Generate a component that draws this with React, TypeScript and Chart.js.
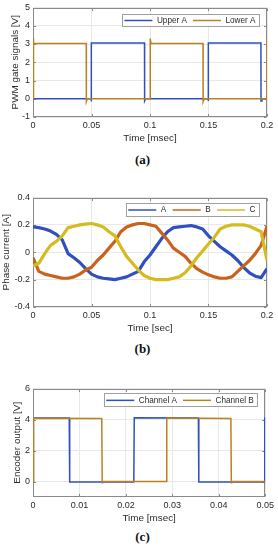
import React, { useEffect, useRef } from "react";
import { Chart, registerables } from "chart.js";

Chart.register(...registerables);

// ---------- (a) PWM gate signals ----------
const pwmXTicks = [0, 0.05, 0.1, 0.15, 0.2];
const pwmYTicks = [-1, 0, 1, 2, 3, 4, 5];
const upperATime = [0, 0.0497, 0.0498, 0.0499, 0.0953, 0.0954, 0.0962, 0.1497, 0.1498, 0.1499, 0.1948, 0.1949, 0.1957, 0.2];
const upperAValue = [0, 0, -0.15, 3.06, 3.06, -0.12, 0, 0, -0.12, 3.06, 3.06, -0.12, 0, 0];
const lowerATime = [0, 0.0001, 0.0008, 0.0455, 0.0456, 0.0464, 0.1001, 0.1002, 0.1009, 0.1453, 0.1454, 0.1462, 0.1998, 0.1999, 0.2];
const lowerAValue = [0, 3.3, 3.03, 3.03, -0.15, 0, 0, 3.3, 3.03, 3.03, -0.15, 0, 0, -0.1, 3.3];

// ---------- (b) Phase currents ----------
const currentXTicks = [0, 0.05, 0.1, 0.15, 0.2];
const currentYTicks = [-0.4, -0.2, 0, 0.2, 0.4];
const currentTime = [0, 0.005, 0.01, 0.015, 0.02, 0.025, 0.03, 0.035, 0.04, 0.045, 0.05, 0.055, 0.06, 0.065, 0.07, 0.075, 0.08, 0.085, 0.09, 0.095, 0.1, 0.105, 0.11, 0.115, 0.12, 0.125, 0.13, 0.135, 0.14, 0.145, 0.15, 0.155, 0.16, 0.165, 0.17, 0.175, 0.18, 0.185, 0.19, 0.195, 0.2];
const phaseA = [0.185, 0.18, 0.17, 0.155, 0.13, 0.09, -0.01, -0.04, -0.075, -0.12, -0.16, -0.18, -0.19, -0.195, -0.2, -0.19, -0.18, -0.16, -0.14, -0.07, -0.02, 0.04, 0.1, 0.15, 0.18, 0.185, 0.19, 0.195, 0.185, 0.17, 0.12, 0.08, 0.04, 0.01, -0.02, -0.06, -0.11, -0.15, -0.175, -0.185, -0.12];
const phaseB = [-0.04, -0.14, -0.16, -0.17, -0.18, -0.19, -0.19, -0.18, -0.16, -0.13, -0.11, -0.06, -0.02, 0.03, 0.08, 0.15, 0.185, 0.2, 0.21, 0.21, 0.2, 0.19, 0.14, 0.09, 0.03, 0, -0.03, -0.08, -0.12, -0.145, -0.165, -0.18, -0.19, -0.19, -0.18, -0.14, -0.1, -0.06, -0.01, 0.05, 0.19];
const phaseC = [-0.1, -0.08, -0.01, 0.05, 0.08, 0.12, 0.18, 0.19, 0.2, 0.205, 0.21, 0.2, 0.185, 0.15, 0.12, 0.04, -0.03, -0.08, -0.13, -0.17, -0.19, -0.2, -0.2, -0.2, -0.19, -0.18, -0.15, -0.1, -0.04, 0.01, 0.06, 0.11, 0.17, 0.19, 0.2, 0.2, 0.2, 0.19, 0.17, 0.15, -0.06];

// ---------- (c) Encoder output ----------
const encXTicks = [0, 0.01, 0.02, 0.03, 0.04, 0.05];
const encYTicks = [0, 2, 4, 6];
const chATime = [0, 0.0001, 0.0078, 0.0079, 0.0217, 0.0218, 0.0356, 0.0357, 0.0498, 0.0499, 0.05];
const chAValue = [0, 4.1, 4.1, -0.03, -0.03, 4.12, 4.1, -0.03, -0.03, 4.1, 4.1];
const chBTime = [0, 0.0001, 0.0148, 0.0149, 0.015, 0.0287, 0.0288, 0.0426, 0.0427, 0.0428, 0.05];
const chBValue = [0, 4.08, 4.06, -0.08, 0, 0, 4.1, 4.07, -0.08, 0, 0];

const BLUE = "#3050c0";
const GOLD = "#bb8020";
const ORANGE = "#c8621c";
const YELLOW = "#d6bb1f";

const FONT = "Liberation Sans, Arial, Helvetica, sans-serif";
const AXIS = "#8a8a8a";
const GRID = "#e8e8e8";
const TEXT = "#2a2a2a";

const framePlugin = {
  id: "mlFrame",
  beforeDatasetsDraw(chart: any) {
    const { ctx, chartArea: a, scales } = chart;
    ctx.save();
    ctx.strokeStyle = AXIS;
    ctx.lineWidth = 1;
    const L = Math.round(a.left) + 0.5;
    const R = Math.round(a.right) - 0.5;
    const T = Math.round(a.top) + 0.5;
    const B = Math.round(a.bottom) - 0.5;
    ctx.strokeRect(L, T, R - L, B - T);
    const tl = 2.5;
    ctx.beginPath();
    for (const t of scales.x.ticks) {
      const px = Math.round(scales.x.getPixelForValue(t.value)) + 0.5;
      ctx.moveTo(px, B);
      ctx.lineTo(px, B - tl);
      ctx.moveTo(px, T);
      ctx.lineTo(px, T + tl);
    }
    for (const t of scales.y.ticks) {
      const py = Math.round(scales.y.getPixelForValue(t.value)) + 0.5;
      ctx.moveTo(L, py);
      ctx.lineTo(L + tl, py);
      ctx.moveTo(R, py);
      ctx.lineTo(R - tl, py);
    }
    ctx.stroke();
    ctx.restore();
  },
  afterDatasetsDraw(chart: any) {
    const opts = chart.options.plugins.mlLegend;
    if (!opts) return;
    const { ctx, chartArea: a } = chart;
    const items = opts.items as { label: string; color: string }[];
    ctx.save();
    ctx.font = `8.2px ${FONT}`;
    const maxW = Math.max(...items.map((i) => ctx.measureText(i.label).width));
    const colW = 38.5 + maxW;
    const boxW = colW * items.length;
    const right = a.right - 8;
    const left = right - boxW;
    const top = a.top + opts.top;
    const h = opts.h;
    ctx.fillStyle = "#ffffff";
    ctx.fillRect(left, top, boxW, h);
    ctx.strokeStyle = "#a0a0a0";
    ctx.lineWidth = 1;
    ctx.strokeRect(Math.round(left) + 0.5, Math.round(top) + 0.5, Math.round(boxW), Math.round(h));
    const cy = top + h / 2 + 0.5;
    items.forEach((it, i) => {
      const cx = left + i * colW;
      ctx.strokeStyle = it.color;
      ctx.lineWidth = 1.5;
      ctx.beginPath();
      ctx.moveTo(cx + 2.5, cy);
      ctx.lineTo(cx + 30.5, cy);
      ctx.stroke();
      ctx.fillStyle = TEXT;
      ctx.textBaseline = "middle";
      ctx.textAlign = "left";
      ctx.fillText(it.label, cx + 35, cy);
    });
    ctx.restore();
  },
};

type Spec = {
  datasets: any[];
  xMin: number;
  xMax: number;
  xTicks: number[];
  yMin: number;
  yMax: number;
  yTicks: number[];
  xTitle: string;
  yTitle: string;
  yTitlePad: number;
  legendItems: { label: string; color: string }[];
  legendTop: number;
  legendH: number;
};

function makeConfig(s: Spec): any {
  const tickFont = { family: FONT, size: 9, lineHeight: 1 };
  const titleFont = { family: FONT, size: 9.9, lineHeight: 1.2 };
  return {
    type: "line",
    data: { datasets: s.datasets },
    plugins: [framePlugin],
    options: {
      responsive: false,
      animation: false,
      devicePixelRatio: 1,
      events: [],
      layout: { padding: { top: 5, right: 11, bottom: 0, left: 0 } },
      elements: { point: { radius: 0 }, line: { tension: 0 } },
      plugins: {
        legend: { display: false },
        tooltip: { enabled: false },
        mlLegend: { items: s.legendItems, top: s.legendTop, h: s.legendH },
      },
      scales: {
        x: {
          type: "linear",
          min: s.xMin,
          max: s.xMax,
          afterBuildTicks: (sc: any) => {
            sc.ticks = s.xTicks.map((v) => ({ value: v }));
          },
          afterFit: (sc: any) => {
            sc.height = 27;
          },
          grid: { color: GRID, drawTicks: false, lineWidth: 1 },
          border: { display: false },
          ticks: {
            font: tickFont,
            color: TEXT,
            padding: 4,
            maxRotation: 0,
            autoSkip: false,
            callback: (v: any) => String(v),
          },
          title: { display: true, text: s.xTitle, font: titleFont, color: TEXT, padding: 0 },
        },
        y: {
          type: "linear",
          min: s.yMin,
          max: s.yMax,
          afterBuildTicks: (sc: any) => {
            sc.ticks = s.yTicks.map((v) => ({ value: v }));
          },
          afterFit: (sc: any) => {
            sc.width = 33;
          },
          grid: { color: GRID, drawTicks: false, lineWidth: 1 },
          border: { display: false },
          ticks: {
            font: tickFont,
            color: TEXT,
            padding: 3,
            autoSkip: false,
            callback: (v: any) => String(v),
          },
          title: {
            display: true,
            text: s.yTitle,
            font: titleFont,
            color: TEXT,
            padding: { top: s.yTitlePad, bottom: 0 },
          },
        },
      },
    },
  };
}

const pts = (xs: number[], ys: number[]) => xs.map((x, i) => ({ x, y: ys[i] }));

function Panel({ top, height, spec }: { top: number; height: number; spec: () => Spec }) {
  const ref = useRef<HTMLCanvasElement | null>(null);
  useEffect(() => {
    if (!ref.current) return;
    const chart = new Chart(ref.current, makeConfig(spec()));
    return () => chart.destroy();
  }, []);
  return (
    <canvas
      ref={ref}
      width={278}
      height={height}
      style={{ position: "absolute", left: 0, top, width: 278, height, display: "block" }}
    />
  );
}

const specA = (): Spec => ({
  datasets: [
    { label: "Upper A", data: pts(upperATime, upperAValue), borderColor: BLUE, borderWidth: 1.5, order: 1 },
    { label: "Lower A", data: pts(lowerATime, lowerAValue), borderColor: GOLD, borderWidth: 1.5, order: 0 },
  ],
  xMin: 0,
  xMax: 0.2,
  xTicks: pwmXTicks,
  yMin: -1,
  yMax: 5,
  yTicks: pwmYTicks,
  xTitle: "Time [msec]",
  yTitle: "PWM gate signals [V]",
  yTitlePad: 9.5,
  legendItems: [
    { label: "Upper A", color: BLUE },
    { label: "Lower A", color: GOLD },
  ],
  legendTop: 6.7,
  legendH: 11.6,
});

const specB = (): Spec => ({
  datasets: [
    { label: "A", data: pts(currentTime, phaseA), borderColor: BLUE, borderWidth: 3.2, borderJoinStyle: "round", order: 2 },
    { label: "B", data: pts(currentTime, phaseB), borderColor: ORANGE, borderWidth: 3.2, borderJoinStyle: "round", order: 1 },
    { label: "C", data: pts(currentTime, phaseC), borderColor: YELLOW, borderWidth: 3.2, borderJoinStyle: "round", order: 0 },
  ],
  xMin: 0,
  xMax: 0.2,
  xTicks: currentXTicks,
  yMin: -0.4,
  yMax: 0.4,
  yTicks: currentYTicks,
  xTitle: "Time [sec]",
  yTitle: "Phase current [A]",
  yTitlePad: 0.3,
  legendItems: [
    { label: "A", color: BLUE },
    { label: "B", color: ORANGE },
    { label: "C", color: YELLOW },
  ],
  legendTop: 5.7,
  legendH: 12.6,
});

const specC = (): Spec => ({
  datasets: [
    { label: "Channel A", data: pts(chATime, chAValue), borderColor: BLUE, borderWidth: 1.5, order: 1 },
    { label: "Channel B", data: pts(chBTime, chBValue), borderColor: GOLD, borderWidth: 1.5, order: 0 },
  ],
  xMin: 0,
  xMax: 0.05,
  xTicks: encXTicks,
  yMin: -1,
  yMax: 6,
  yTicks: encYTicks,
  xTitle: "Time [msec]",
  yTitle: "Encoder output [V]",
  yTitlePad: 11,
  legendItems: [
    { label: "Channel A", color: BLUE },
    { label: "Channel B", color: GOLD },
  ],
  legendTop: 4.7,
  legendH: 13.3,
});

function Caption({ top, text }: { top: number; text: string }) {
  return (
    <div
      style={{
        position: "absolute",
        left: 0,
        top,
        width: 285,
        textAlign: "center",
        fontFamily: '"Liberation Serif", "Times New Roman", serif',
        fontWeight: "bold",
        fontSize: 13,
        lineHeight: "14px",
        color: "#111",
      }}
    >
      {text}
    </div>
  );
}

export default function App() {
  return (
    <div style={{ position: "absolute", left: 0, top: 0, width: 278, height: 550, background: "#ffffff", overflow: "hidden" }}>
      <Panel top={0} height={144} spec={specA} />
      <Caption top={153} text="(a)" />
      <Panel top={190} height={144} spec={specB} />
      <Caption top={341.5} text="(b)" />
      <Panel top={381} height={143} spec={specC} />
      <Caption top={529.5} text="(c)" />
    </div>
  );
}
